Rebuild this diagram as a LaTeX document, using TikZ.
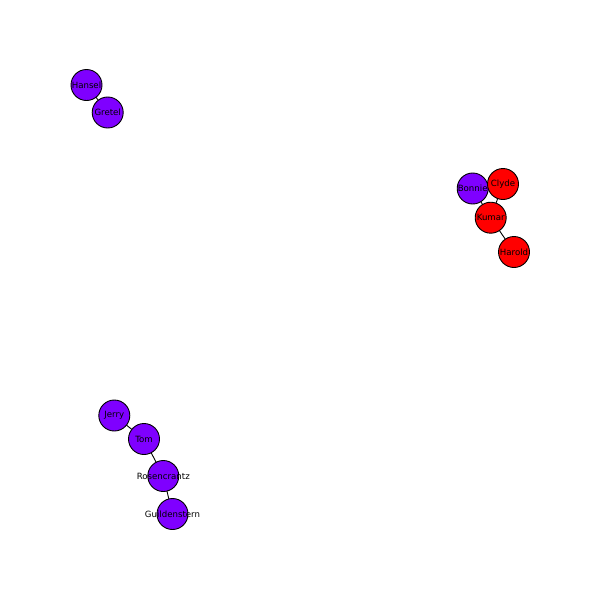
\documentclass[tikz,border=0pt]{standalone}
\usepackage{fontspec}
\setmainfont{DejaVu Sans}
\definecolor{npurple}{RGB}{127,0,255}
\definecolor{nred}{RGB}{255,0,0}
\tikzset{
  gnode/.style={circle, draw=black, line width=0.9pt, minimum size=31pt, inner sep=0pt},
  pnode/.style={gnode, fill=npurple},
  rnode/.style={gnode, fill=nred},
  glabel/.style={inner sep=0pt, font=\fontsize{8.6}{9}\selectfont, text=black},
  gedge/.style={draw=black, line width=0.9pt}
}
\begin{document}
\begin{tikzpicture}[x=1pt,y=-1pt]
\useasboundingbox[fill=white] (0,0) rectangle (600,600);
\coordinate (cHansel) at (86.5,85);
\coordinate (cGretel) at (107.7,112.5);
\coordinate (cBonnie) at (472.7,188.5);
\coordinate (cClyde) at (503,184);
\coordinate (cKumar) at (490.7,217.7);
\coordinate (cHarold) at (514,252);
\coordinate (cJerry) at (114.3,415.5);
\coordinate (cTom) at (144,439);
\coordinate (cRos) at (163.3,476);
\coordinate (cGuil) at (172.5,514);
\draw[gedge] (cHansel) -- (cGretel);
\draw[gedge] (cBonnie) -- (cKumar);
\draw[gedge] (cClyde) -- (cKumar);
\draw[gedge] (cKumar) -- (cHarold);
\draw[gedge] (cJerry) -- (cTom);
\draw[gedge] (cTom) -- (cRos);
\draw[gedge] (cRos) -- (cGuil);
% nodes
\node[pnode] (Hansel) at (cHansel) {};
\node[pnode] (Gretel) at (cGretel) {};
\node[pnode] (Bonnie) at (cBonnie) {};
\node[rnode] (Clyde) at (cClyde) {};
\node[rnode] (Kumar) at (cKumar) {};
\node[rnode] (Harold) at (cHarold) {};
\node[pnode] (Jerry) at (cJerry) {};
\node[pnode] (Tom) at (cTom) {};
\node[pnode] (Rosencrantz) at (cRos) {};
\node[pnode] (Guildenstern) at (cGuil) {};
% labels
\node[glabel] (lHansel) at (cHansel) {Hansel};
\node[glabel] (lGretel) at (cGretel) {Gretel};
\node[glabel] (lBonnie) at (cBonnie) {Bonnie};
\node[glabel] (lClyde) at (cClyde) {Clyde};
\node[glabel] (lKumar) at (cKumar) {Kumar};
\node[glabel] (lHarold) at (cHarold) {Harold};
\node[glabel] (lJerry) at (cJerry) {Jerry};
\node[glabel] (lTom) at (cTom) {Tom};
\node[glabel] (lRos) at (cRos) {Rosencrantz};
\node[glabel] (lGuil) at (cGuil) {Guildenstern};
\end{tikzpicture}
\end{document}
